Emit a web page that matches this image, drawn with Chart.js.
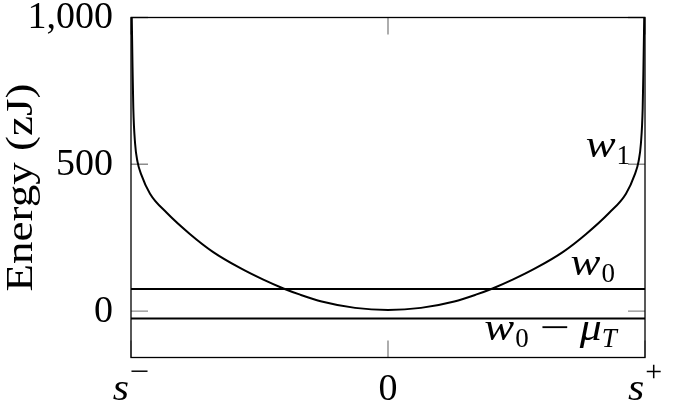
<!DOCTYPE html>
<html>
<head>
<meta charset="utf-8">
<script src="https://cdn.jsdelivr.net/npm/chart.js@4"></script>
<style>
  body { margin: 0; background: #fff; }
  #wrap { width: 673px; height: 407px; }
</style>
</head>
<body>
<div id="wrap"><canvas id="energyChart"></canvas></div>
<script>
// data (s normalised: s- = -1, s+ = 1)
var sValues  = [-0.997, -0.994, -0.991, -0.984, -0.975, -0.960, -0.926, -0.861, -0.770, -0.680, -0.576, -0.485, -0.407, -0.342, -0.258, -0.128, 0,
                0.128, 0.258, 0.342, 0.407, 0.485, 0.576, 0.680, 0.770, 0.861, 0.926, 0.960, 0.975, 0.984, 0.991, 0.994, 0.997];
var w1Values = [1000, 830, 690, 570, 510, 465, 400, 335, 262, 201, 147, 107, 77, 56, 33, 11, 4,
                11, 33, 56, 77, 107, 147, 201, 262, 335, 400, 465, 510, 570, 690, 830, 1000];
var w0Value = 75;
var w0MinusMuValue = -25;
var xTicks = [-1, 0, 1];
var yTicks = [0, 500, 1000];
var yTickLabels = ['0', '500', '1,000'];

var FONT = '"Liberation Serif", "DejaVu Serif", serif';

function fontOf(p) {
  return (p.italic ? 'italic ' : '') + (p.size || 38) + 'px ' + FONT;
}

// draw a run of text pieces (sub/superscripts) from x on baseline y
function drawRich(ctx, parts, x, y, align) {
  var widths = [], total = 0;
  parts.forEach(function (p) {
    ctx.font = fontOf(p);
    var w = ctx.measureText(p.t).width * (p.sx || 1);
    widths.push(w);
    total += w + (p.pad || 0) + (p.padAfter || 0);
  });
  var cx = align === 'right' ? x - total : align === 'center' ? x - total / 2 : x;
  parts.forEach(function (p, i) {
    ctx.font = fontOf(p);
    cx += p.pad || 0;
    ctx.save();
    ctx.translate(cx, y + (p.dy || 0));
    ctx.scale(p.sx || 1, 1);
    ctx.fillText(p.t, 0, 0);
    ctx.restore();
    cx += widths[i] + (p.padAfter || 0);
  });
}

var W = { t: 'w', italic: true, sx: 1.18 };
var xTickParts = [
  [{ t: 's', italic: true, sx: 1.1 }, { t: '\u2212', size: 30, dy: -19, pad: 1, sx: 1.15 }],
  [{ t: '0' }],
  [{ t: 's', italic: true, sx: 1.1 }, { t: '+', size: 30, dy: -19, pad: 1 }]
];

var frameAndText = {
  id: 'frameAndText',
  beforeDatasetsDraw: function (chart) {
    var ctx = chart.ctx, a = chart.chartArea;
    var xs = chart.scales.x, ys = chart.scales.y;
    ctx.save();
    ctx.strokeStyle = '#8c8c8c';
    ctx.lineWidth = 1.4;
    ctx.beginPath();
    xTicks.forEach(function (v) {
      var px = xs.getPixelForValue(v);
      ctx.moveTo(px, a.bottom); ctx.lineTo(px, a.bottom - 17);
      ctx.moveTo(px, a.top); ctx.lineTo(px, a.top + 17);
    });
    yTicks.forEach(function (v) {
      var py = ys.getPixelForValue(v);
      ctx.moveTo(a.left, py); ctx.lineTo(a.left + 17, py);
      ctx.moveTo(a.right, py); ctx.lineTo(a.right - 17, py);
    });
    ctx.stroke();
    ctx.restore();
  },
  afterDatasetsDraw: function (chart) {
    var ctx = chart.ctx, a = chart.chartArea;
    var xs = chart.scales.x, ys = chart.scales.y;
    ctx.save();
    ctx.strokeStyle = '#000';
    ctx.lineWidth = 1.3;
    ctx.strokeRect(a.left, a.top, a.right - a.left, a.bottom - a.top);

    ctx.fillStyle = '#000';
    // y tick labels
    ctx.font = '38px ' + FONT;
    ctx.textAlign = 'right';
    ctx.textBaseline = 'middle';
    yTicks.forEach(function (v, i) {
      ctx.fillText(yTickLabels[i], a.left - 18, ys.getPixelForValue(v) + 1);
    });
    // y axis title
    ctx.save();
    ctx.translate(22, (a.top + a.bottom) / 2);
    ctx.rotate(-Math.PI / 2);
    ctx.textAlign = 'center';
    var title = 'Energy (zJ)';
    var tw = ctx.measureText(title).width;
    ctx.scale(208 / tw, 1);
    ctx.fillText(title, 0, 0);
    ctx.restore();

    // x tick labels
    ctx.textAlign = 'left';
    ctx.textBaseline = 'alphabetic';
    xTicks.forEach(function (v, i) {
      drawRich(ctx, xTickParts[i], xs.getPixelForValue(v), 400, 'center');
    });

    // curve labels
    drawRich(ctx, [W, { t: '1', size: 27, dy: 7, pad: 1 }],
      xs.getPixelForValue(0.942), ys.getPixelForValue(524), 'right');
    drawRich(ctx, [W, { t: '0', size: 27, dy: 7, pad: 1 }],
      xs.getPixelForValue(0.883), ys.getPixelForValue(122), 'right');
    drawRich(ctx, [W, { t: '0', size: 27, dy: 7, pad: 1 },
                   { t: '\u2212', pad: 11, padAfter: 10, sx: 1.4 },
                   { t: '\u03bc', italic: true, sx: 1.15 }, { t: 'T', italic: true, size: 27, dy: 7, pad: 0 }],
      xs.getPixelForValue(0.89), ys.getPixelForValue(-100), 'right');
    ctx.restore();
  }
};

var lineStyle = {
  borderColor: '#000',
  borderWidth: 2,
  pointRadius: 0,
  fill: false
};

new Chart(document.getElementById('energyChart'), {
  type: 'line',
  data: {
    datasets: [
      Object.assign({
        label: 'w1',
        data: sValues.map(function (s, i) { return { x: s, y: w1Values[i] }; }),
        cubicInterpolationMode: 'monotone'
      }, lineStyle),
      Object.assign({
        label: 'w0',
        data: [{ x: xTicks[0], y: w0Value }, { x: xTicks[2], y: w0Value }]
      }, lineStyle),
      Object.assign({
        label: 'w0 - muT',
        data: [{ x: xTicks[0], y: w0MinusMuValue }, { x: xTicks[2], y: w0MinusMuValue }]
      }, lineStyle)
    ]
  },
  options: {
    responsive: true,
    maintainAspectRatio: false,
    devicePixelRatio: 1,
    animation: false,
    layout: { padding: { left: 131, top: 17.5, right: 28, bottom: 49.5 } },
    plugins: { legend: { display: false }, tooltip: { enabled: false } },
    scales: {
      x: { type: 'linear', min: -1, max: 1, display: false },
      y: { type: 'linear', min: -158, max: 1000, display: false }
    }
  },
  plugins: [frameAndText]
});
</script>
</body>
</html>
